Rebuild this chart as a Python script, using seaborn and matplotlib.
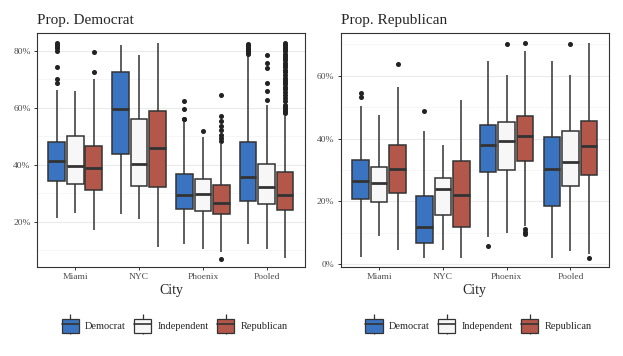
import numpy as np
import pandas as pd
import seaborn as sns
import matplotlib.pyplot as plt
from matplotlib.patches import Rectangle
from matplotlib.lines import Line2D
from matplotlib.legend_handler import HandlerTuple
from matplotlib.ticker import FuncFormatter, MultipleLocator

cities = ['Miami', 'NYC', 'Phoenix', 'Pooled']
parties = ['Democrat', 'Independent', 'Republican']
colors = ['#3a74c0', '#f7f7f7', '#b3574a']

# box summaries, in percent: whisker low, q1, median, q3, whisker high
dem_stats = {
    ('Miami', 'Democrat'): [21.2, 34.4, 41.3, 47.8, 66.2],
    ('Miami', 'Independent'): [22.9, 33.3, 39.6, 50.1, 65.8],
    ('Miami', 'Republican'): [17.1, 31.0, 38.9, 46.7, 69.9],
    ('NYC', 'Democrat'): [22.6, 43.7, 59.5, 72.4, 82.0],
    ('NYC', 'Independent'): [20.9, 32.4, 40.2, 56.1, 78.5],
    ('NYC', 'Republican'): [11.0, 32.0, 45.7, 58.7, 82.6],
    ('Phoenix', 'Democrat'): [12.2, 24.4, 29.5, 36.8, 55.0],
    ('Phoenix', 'Independent'): [10.4, 23.9, 29.7, 34.9, 49.6],
    ('Phoenix', 'Republican'): [9.5, 22.7, 26.5, 32.7, 47.2],
    ('Pooled', 'Democrat'): [12.2, 27.4, 35.6, 47.9, 78.3],
    ('Pooled', 'Independent'): [10.4, 26.1, 32.3, 40.2, 60.9],
    ('Pooled', 'Republican'): [7.4, 24.0, 29.5, 37.4, 57.2],
}
dem_outliers = {
    ('Miami', 'Democrat'): [68.6, 70.0, 74.4, 80.0, 80.8, 81.4, 82.0, 82.6],
    ('Miami', 'Republican'): [72.4, 79.5],
    ('Phoenix', 'Democrat'): [55.9, 56.1, 59.4, 62.5],
    ('Phoenix', 'Independent'): [51.8],
    ('Phoenix', 'Republican'): [7.0, 48.3, 49.2, 50.5, 52.0, 53.5, 55.2, 57.0, 64.3],
    ('Pooled', 'Democrat'): [78.9, 79.4, 79.9, 80.4, 80.9, 81.4, 81.9, 82.4],
    ('Pooled', 'Independent'): [62.7, 65.8, 68.5, 74.0, 75.6, 78.5],
    ('Pooled', 'Republican'): [58.2, 58.8, 59.5, 60.2, 61.0, 62.3, 63.5, 64.5, 65.5,
                               66.6, 67.4, 68.2, 69.0, 69.7, 70.5, 71.5, 72.6, 73.4,
                               74.2, 75.0, 75.8, 76.6, 77.4, 78.2, 79.0, 79.8, 80.6,
                               81.3, 82.0, 82.6],
}

rep_stats = {
    ('Miami', 'Democrat'): [2.4, 20.6, 26.6, 33.2, 50.3],
    ('Miami', 'Independent'): [9.1, 19.7, 25.7, 31.1, 47.6],
    ('Miami', 'Republican'): [4.4, 22.8, 30.3, 37.9, 56.3],
    ('NYC', 'Democrat'): [2.1, 6.7, 11.9, 21.8, 42.4],
    ('NYC', 'Independent'): [4.4, 15.7, 23.9, 27.6, 37.9],
    ('NYC', 'Republican'): [1.9, 11.7, 21.9, 32.7, 52.3],
    ('Phoenix', 'Democrat'): [8.5, 29.2, 37.8, 44.2, 64.8],
    ('Phoenix', 'Independent'): [9.8, 30.0, 39.3, 45.2, 60.2],
    ('Phoenix', 'Republican'): [12.0, 33.0, 40.8, 47.3, 67.8],
    ('Pooled', 'Democrat'): [2.1, 18.6, 30.2, 40.6, 64.8],
    ('Pooled', 'Independent'): [4.3, 25.0, 32.4, 42.5, 60.2],
    ('Pooled', 'Republican'): [3.3, 28.4, 37.6, 45.7, 70.3],
}
rep_outliers = {
    ('Miami', 'Democrat'): [53.3, 54.6],
    ('Miami', 'Republican'): [63.9],
    ('NYC', 'Democrat'): [48.8],
    ('Phoenix', 'Democrat'): [5.8],
    ('Phoenix', 'Independent'): [70.1],
    ('Phoenix', 'Republican'): [9.5, 10.4, 11.2, 70.5],
    ('Pooled', 'Independent'): [70.1],
    ('Pooled', 'Republican'): [2.1],
}


def expand(stats, outliers, k=60):
    # rebuild a sample whose quartiles and whiskers give the read summary
    rows = []
    for (city, party), (lo, q1, med, q3, hi) in stats.items():
        vals = [lo] + [q1] * k + [med] * k + [q3] * k + [hi] + outliers.get((city, party), [])
        rows += [(city, party, v) for v in vals]
    return pd.DataFrame(rows, columns=['City', 'Party', 'value'])


panels = [
    ('Prop. Democrat', expand(dem_stats, dem_outliers), (4.1, 86.3), 0.0594),
    ('Prop. Republican', expand(rep_stats, rep_outliers), (-0.9, 73.7), 0.547),
]

sns.set_theme(style='white')
plt.rcParams['font.family'] = ['Liberation Serif', 'DejaVu Serif']

fig = plt.figure(figsize=(6.23, 3.56), dpi=100)
for title, df, ylim, left in panels:
    ax = fig.add_axes([left, 0.25, 0.43, 0.658])
    sns.boxplot(data=df, x='City', y='value', hue='Party', order=cities,
                hue_order=parties, palette=colors, saturation=1, width=0.87, gap=0.1,
                linecolor='#333333', linewidth=1.1, whis=1.5, showcaps=False,
                flierprops=dict(marker='o', markersize=2.6, markerfacecolor='#222222',
                                markeredgecolor='#222222'),
                medianprops=dict(linewidth=2.0, color='#333333'),
                legend=False, ax=ax)
    ax.set_xlim(-0.6, 3.6)
    ax.set_ylim(*ylim)
    ax.yaxis.set_major_locator(MultipleLocator(20))
    ax.yaxis.set_minor_locator(MultipleLocator(10))
    ax.yaxis.set_major_formatter(FuncFormatter(lambda v, p: f'{v:.0f}%'))
    ax.grid(True, axis='y', which='major', color='#ebebeb', linewidth=0.8)
    ax.grid(True, axis='y', which='minor', color='#f3f3f3', linewidth=0.5)
    ax.set_axisbelow(True)
    for s in ax.spines.values():
        s.set_color('#333333')
        s.set_linewidth(0.8)
    ax.tick_params(axis='both', which='major', length=2.5, width=0.7, color='#333333',
                   labelcolor='#4d4d4d', labelsize=6.8, pad=2, left=True, bottom=True)
    ax.tick_params(axis='y', which='minor', length=0)
    ax.set_ylabel('')
    ax.set_xlabel('City', fontsize=10, labelpad=2)
    ax.set_title(title, loc='left', fontsize=11, pad=6)

    handles = []
    for c in colors:
        handles.append((Line2D([], [], color='#333333', marker='|', markersize=14,
                               markeredgewidth=0.9, linestyle='none'),
                        Rectangle((0, 0), 1, 1, facecolor=c, edgecolor='#333333', linewidth=0.9),
                        Line2D([], [], color='#333333', linewidth=1.2)))
    fig.legend(handles, parties, loc='center', ncol=3, frameon=False,
               bbox_to_anchor=(left + 0.221, 0.084), fontsize=7.5,
               handler_map={tuple: HandlerTuple(ndivide=1, pad=0)},
               handlelength=1.65, handleheight=1.8, handletextpad=0.6,
               columnspacing=0.8, numpoints=1)

fig.savefig('out.png', dpi=100)
